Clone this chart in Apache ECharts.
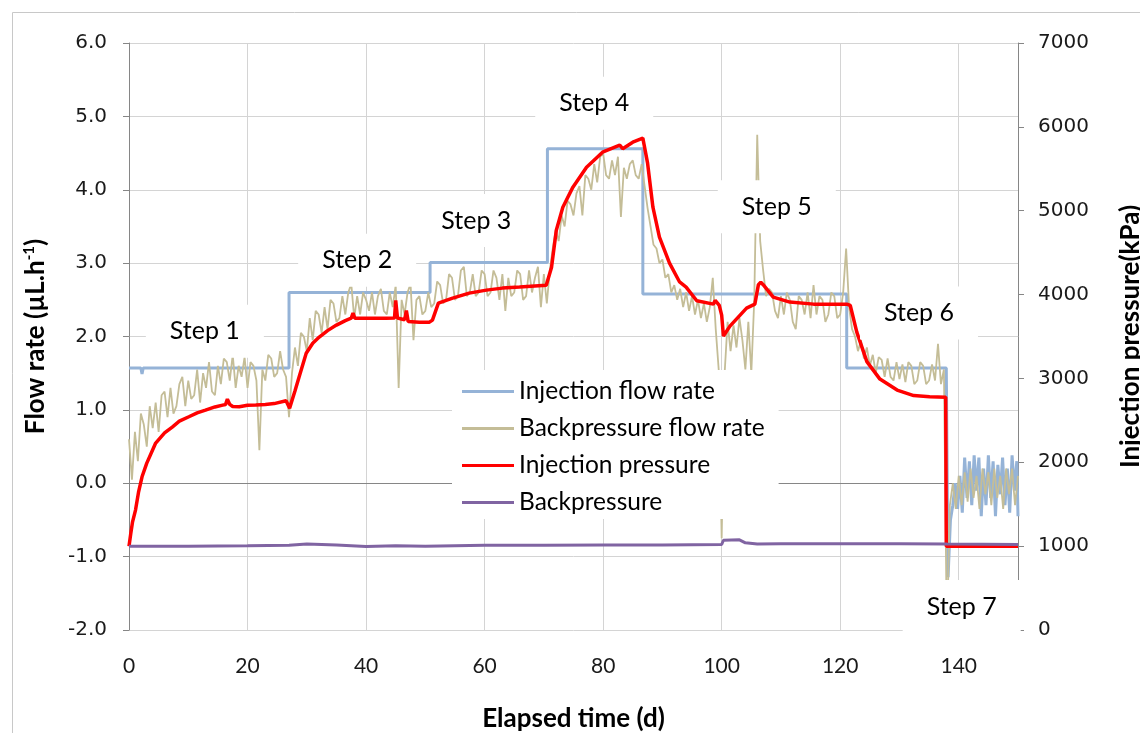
<!DOCTYPE html>
<html>
<head>
<meta charset="utf-8">
<script src="https://cdn.jsdelivr.net/npm/echarts@6/dist/echarts.min.js"></script>
<style>
    html, body { margin: 0; padding: 0; background: #fff; }
    #main { width: 1140px; height: 733px; }
</style>
</head>
<body>
<div id="main"></div>
<script>
// axis ranges
var dayMin = 0, dayMax = 150, dayStep = 20;
var flowMin = -2, flowMax = 6, flowStep = 1;
var kpaMin = 0, kpaMax = 7000, kpaStep = 1000;

// injection flow rate (uL/h) - [day, value]
var injFlow = [[0,1.57],[2.0,1.57],[2.2,1.49],[2.4,1.57],[27.0,1.57],[27.0,2.6],[50.8,2.6],[50.8,3.01],
    [70.6,3.01],[70.6,4.56],[86.7,4.56],[86.7,2.58],[121.1,2.58],[121.1,1.57],[137.9,1.57],[138.2,-1.28],
    [138.6,-0.5],[139,-0.3],[139.4,0.0],[139.8,-0.35],[140.2,0.1],[140.6,-0.4],[141,0.35],[141.4,-0.2],
    [141.8,0.3],[142.2,-0.3],[142.6,0.38],[143,-0.1],[143.4,0.35],[143.8,-0.45],[144.2,0.2],[144.6,-0.3],
    [145,0.38],[145.4,-0.2],[145.8,0.3],[146.2,-0.45],[146.6,0.25],[147,-0.15],[147.4,0.35],[147.8,-0.3],
    [148.2,0.2],[148.6,-0.4],[149,0.38],[149.4,-0.1],[149.8,0.3],[150,-0.45]];

// backpressure flow rate (uL/h), sampled every half day from day 0
var bpStart = 0, bpStep = 0.5;
var bpFlow = [
    // step 1
    0.6,0.05,0.7,0.3,0.95,0.8,0.5,1.05,0.75,1.1,
    0.7,1.2,1.25,0.9,1.3,0.95,1.05,1.35,1.45,1.05,
    1.4,1.15,1.2,1.55,1.1,1.5,1.3,1.65,1.25,1.2,
    1.6,1.35,1.7,1.65,1.4,1.75,1.3,1.6,1.45,1.72,
    1.3,1.65,1.6,1.4,0.45,1.55,1.4,1.75,1.7,1.45,
    1.5,1.8,1.55,1.45,0.9,
    // step 2
    1.5,1.85,1.6,2.05,2.0,1.8,2.25,1.95,2.35,2.3,
    2.05,2.4,2.1,2.5,2.45,2.2,2.25,2.55,2.3,2.6,
    2.72,2.25,2.55,2.3,2.6,2.5,2.35,2.6,2.3,2.55,
    2.65,2.35,2.3,2.6,2.4,2.7,1.3,2.5,2.3,2.6,
    2.72,1.95,2.5,2.55,2.3,2.35,2.6,2.4,
    // step 3
    2.45,2.75,2.7,2.45,2.5,2.85,2.8,2.5,2.55,2.9,
    2.95,2.55,2.6,2.85,2.55,2.6,2.9,2.85,2.55,2.6,
    2.9,2.8,2.5,2.85,2.35,2.8,2.55,2.6,2.9,2.85,
    2.5,2.55,2.9,2.6,2.8,2.95,2.4,2.85,2.45,
    // step 4
    2.9,3.2,3.45,3.3,3.65,3.5,3.85,3.8,3.65,3.95,
    4.05,3.65,4.2,4.15,4.0,4.35,4.1,4.45,4.5,4.2,
    4.15,4.4,4.2,4.45,3.63,4.3,4.15,4.35,4.4,4.2,
    4.15,4.35,4.05,
    // step 5 transition
    3.75,3.5,3.25,3.2,3.0,3.05,2.8,2.85,2.6,2.7,
    2.5,2.65,2.4,2.6,2.35,2.55,2.3,2.5,2.25,2.45,
    2.2,2.4,2.8,2.1,1.55,-0.75,1.5,
    // step 5 and 6
    2.2,1.8,2.15,1.85,2.25,1.95,1.55,2.2,1.5,2.5,
    4.75,3.3,2.9,2.55,2.65,2.6,2.35,2.25,2.55,2.3,
    2.6,2.5,2.2,2.1,2.55,2.5,2.3,2.6,2.25,2.7,
    2.3,2.55,2.5,2.2,2.3,2.6,2.55,2.25,2.3,2.6,
    3.2,2.4,2.1,2.0,1.8,1.95,1.7,1.85,1.6,1.75,
    1.5,1.72,1.68,1.45,1.7,1.45,1.4,1.65,1.42,1.62,
    1.38,1.65,1.6,1.35,1.4,1.65,1.6,1.35,1.4,1.62,
    1.4,1.9,1.35,1.55,
    // step 7
    -2.1,-0.3,0.0,-0.35,0.1,-0.3,0.15,-0.25,0.2,-0.2,
    0.1,-0.35,0.2,-0.15,0.15,-0.3,0.2,-0.2,0.1,-0.35,
    0.2,-0.15,0.2,-0.3,0.1
];

// injection pressure (kPa) - [day, value]
var injPressure = [[0,1000],[0.3,1150],[0.6,1290],[1.1,1430],[1.6,1640],[2.2,1827],[3,1990],[4.5,2229],
    [6,2350],[7.3,2420],[8.5,2490],[10.1,2543],[11.5,2590],[12.9,2622],[14.5,2660],[15.8,2682],[16.3,2690],
    [16.6,2753],[17,2690],[17.5,2665],[18.6,2662],[20,2680],[21.4,2682],[23,2690],[24.5,2700],[26.5,2733],
    [27.1,2646],[28,2850],[28.7,3016],[29.9,3300],[31,3420],[32.1,3493],[33.5,3570],[35,3636],[36.5,3690],
    [37.5,3719],[37.8,3780],[38.1,3719],[40.5,3719],[43.4,3719],[44.8,3720],[45,3930],[45.3,3720],[46.5,3700],
    [46.8,3810],[47.1,3680],[49,3671],[50.7,3671],[51.2,3695],[52.2,3898],[54.6,3958],[57.4,4017],[60.3,4053],
    [63,4077],[65.9,4089],[70.4,4112],[71.3,4327],[72.1,4768],[73.2,5042],[74.9,5281],[77.2,5519],[79.9,5698],
    [82.8,5781],[83.3,5740],[85,5817],[86.7,5865],[87.5,5567],[88.4,5042],[89.5,4685],[91.2,4375],[92.9,4150],
    [94,4089],[95.8,3926],[98.6,3886],[98.9,3930],[99.6,3870],[100,3755],[100.3,3505],[101.4,3624],[104.2,3838],
    [105.6,3886],[106.2,4118],[106.6,4148],[107,4118],[108.7,3969],[111.5,3910],[115.5,3886],[121.1,3886],
    [121.7,3870],[122.8,3552],[124.5,3200],[126.7,2992],[129.6,2861],[132.4,2795],[135.1,2782],[137.8,2777],
    [137.9,1000],[150,1000]];

// backpressure (kPa) - [day, value]
var backPressure = [[0,1000],[10,1000],[20,1005],[27,1010],[30,1025],[35,1015],[40,995],[45,1005],[50,1000],
    [60,1010],[70,1010],[80,1015],[90,1015],[100,1020],[100.3,1070],[103,1075],[104,1040],[106,1025],
    [110,1030],[120,1030],[130,1030],[138,1025],[150,1020]];

// step annotations, placed in (day, flow rate) units
var stepNames = ['Step 1','Step 2','Step 3','Step 4','Step 5','Step 6','Step 7'];
var stepDay = [12.8, 38.5, 58.6, 78.5, 109.3, 133.3, 140.5];
var stepFlow = [2.07, 3.04, 3.58, 5.18, 3.77, 2.32, -1.68];

window.onload = function () {
    var myChart = echarts.init(document.getElementById('main'));
    var bpData = bpFlow.map(function (v, i) { return [bpStart + i * bpStep, v]; });
    var gray = '#868686';
    var gridGray = '#d4d4d4';

    var option = {
        animation: false,
        backgroundColor: '#fff',
        grid: { left: 129, right: 122, top: 43, bottom: 103, containLabel: false, outerBoundsMode: 'none' },
        legend: {
            orient: 'vertical', left: 452, top: 370,
            padding: [9, 14, 4, 10],
            backgroundColor: '#fff',
            itemWidth: 52, itemHeight: 3, itemGap: 12, icon: 'rect',
            textStyle: { fontFamily: 'Lato', fontSize: 24.5, lineHeight: 24, color: '#000' },
            data: ['Injection flow rate', 'Backpressure flow rate', 'Injection pressure', 'Backpressure']
        },
        xAxis: {
            type: 'value', min: dayMin, max: dayMax, interval: dayStep,
            name: 'Elapsed time (d)', nameLocation: 'middle', nameGap: 76,
            nameTextStyle: { fontFamily: 'Lato', fontWeight: 'bold', fontSize: 26, color: '#000' },
            axisLine: { lineStyle: { color: gray } },
            axisTick: { show: false },
            axisLabel: { showMaxLabel: false, margin: 26, fontFamily: 'Lato', fontSize: 21, color: '#1a1a1a' },
            splitLine: { show: true, lineStyle: { color: gridGray, width: 1 } }
        },
        yAxis: [{
            type: 'value', min: flowMin, max: flowMax, interval: flowStep,
            name: 'Flow rate (µL.h{sup|-1})', nameLocation: 'middle', nameGap: 80, nameRotate: 90,
            nameTextStyle: {
                fontFamily: 'Lato', fontWeight: 'bold', fontSize: 26, color: '#000',
                rich: { sup: { fontFamily: 'Lato', fontWeight: 'bold', fontSize: 15, color: '#000', padding: [0, 0, 12, 0] } }
            },
            axisLine: { show: true, lineStyle: { color: gray } },
            axisTick: { show: true, length: 6, lineStyle: { color: gray } },
            axisLabel: {
                margin: 22, fontFamily: 'DejaVu Sans', fontSize: 20, color: '#1a1a1a',
                formatter: function (v) { return v.toFixed(1); }
            },
            splitLine: { show: true, lineStyle: { color: gridGray, width: 1 } }
        }, {
            type: 'value', min: kpaMin, max: kpaMax, interval: kpaStep, position: 'right',
            name: 'Injection pressure(kPa)', nameLocation: 'middle', nameGap: 100, nameRotate: 90,
            nameTextStyle: { fontFamily: 'Lato', fontWeight: 'bold', fontSize: 26, color: '#000' },
            axisLine: { show: true, lineStyle: { color: gray } },
            axisTick: { show: true, length: 6, lineStyle: { color: gray } },
            axisLabel: {
                margin: 20, fontFamily: 'DejaVu Sans', fontSize: 20, color: '#1a1a1a',
                formatter: function (v) { return String(v); }
            },
            splitLine: { show: false }
        }],
        series: [{
            name: 'Injection flow rate', type: 'line', yAxisIndex: 0, data: injFlow,
            symbol: 'none', color: '#95B3D7', lineStyle: { width: 3, color: '#95B3D7' }
        }, {
            name: 'Backpressure flow rate', type: 'line', yAxisIndex: 0, data: bpData,
            symbol: 'none', color: '#C4BD97', lineStyle: { width: 1.8, color: '#C4BD97' }
        }, {
            name: 'Injection pressure', type: 'line', yAxisIndex: 1, data: injPressure,
            symbol: 'none', color: '#FF0000', lineStyle: { width: 3.5, color: '#FF0000' }
        }, {
            name: 'Backpressure', type: 'line', yAxisIndex: 1, data: backPressure,
            symbol: 'none', color: '#8064A2', lineStyle: { width: 3, color: '#8064A2' }
        }]
    };
    myChart.setOption(option);

    // white-boxed step labels and the chart border
    var elements = [{
        type: 'rect', left: 10, top: 10, z: 0, silent: true,
        shape: { width: 1200, height: 800 },
        style: { fill: 'none', stroke: '#c8c8c8', lineWidth: 1 }
    }];
    stepNames.forEach(function (s, i) {
        var p = myChart.convertToPixel({ seriesIndex: 0 }, [stepDay[i], stepFlow[i]]);
        elements.push({
            type: 'text', x: p[0], y: p[1], z: 100,
            style: {
                text: s, font: '25px Lato', fill: '#000',
                align: 'center', verticalAlign: 'middle',
                backgroundColor: '#fff', padding: [14, 24]
            }
        });
    });
    myChart.setOption({ graphic: { elements: elements } });
};
</script>
</body>
</html>
